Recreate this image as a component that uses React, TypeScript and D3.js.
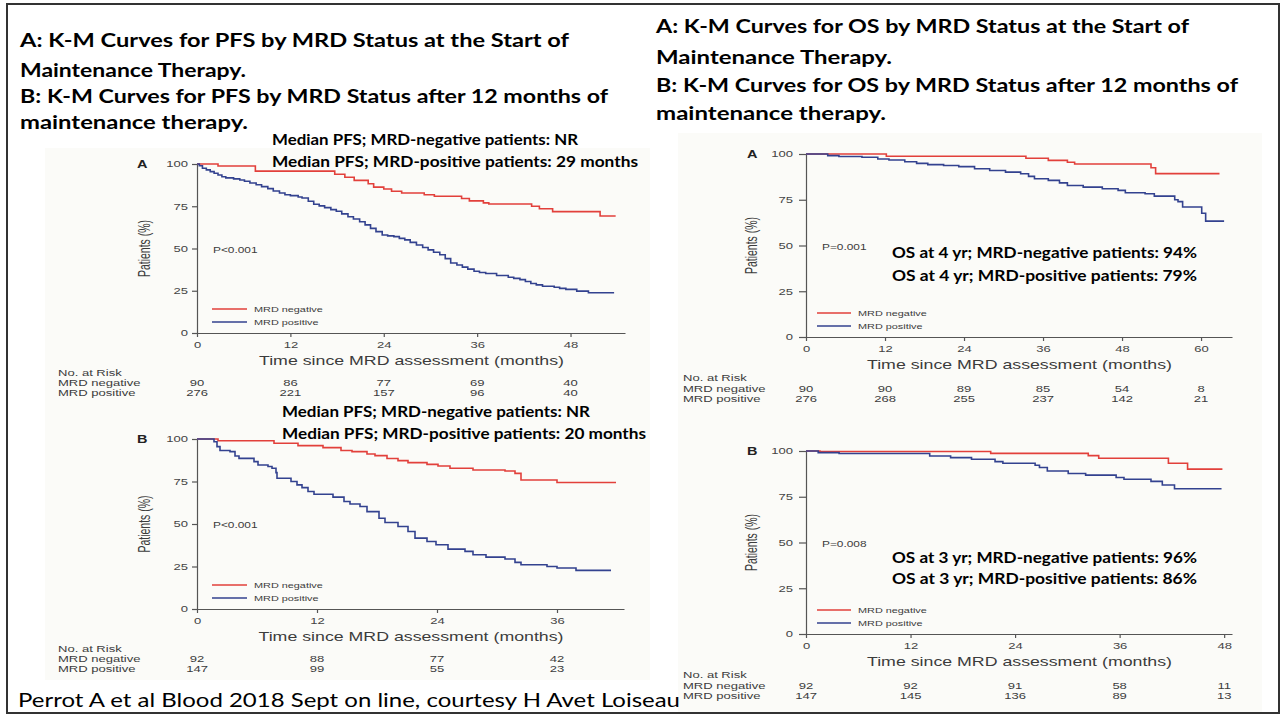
import React, { useEffect, useRef } from 'react'
import * as d3 from 'd3'

type Pt = [number, number]

const W = 1285
const H = 719
const SX = 1.45 // the pasted figures are stretched sideways
const FIG_FONT = '"Liberation Sans", Arial, sans-serif'
const SLIDE_FONT = 'Lato, "Open Sans", sans-serif'
const RED = '#e2403b'
const BLUE = '#33428f'

const yTicks = [0, 25, 50, 75, 100]
const ticksPfsA = [0, 12, 24, 36, 48]
const ticksPfsB = [0, 12, 24, 36]
const ticksOsA = [0, 12, 24, 36, 48, 60]
const ticksOsB = [0, 12, 24, 36, 48]
const seriesNames = ['MRD negative', 'MRD positive']

// PFS, MRD at start of maintenance
const pfsANeg: Pt[] = [[0,100],[2.7,98.8],[7.5,95.8],[17.7,93.9],[19,92.2],[20.2,90.3],[22,88.3],[22.7,86.3],[24,85.2],[25,83.9],[26.3,82.8],[29.2,81.8],[30.5,80.9],[34,79.6],[35,78.2],[36.8,77],[37.5,76.3],[43,75],[44,73.5],[45.7,71.8],[51.8,69.2],[53.8,69.2]]
const pfsAPos: Pt[] = [[0,100],[0.3,99],[0.7,97.5],[1.2,96.5],[1.7,95.5],[2.2,94.5],[2.7,93.5],[3.2,92.5],[3.7,91.8],[4.7,91.2],[5.5,90.5],[6.1,89.8],[6.8,88.8],[7.6,87.7],[8.3,86.6],[9.1,85.4],[9.8,84],[10.6,82.8],[11.3,81.8],[12,81.3],[13,80.5],[13.5,79.9],[14.3,78],[15,76.2],[15.7,75.2],[16.4,74.2],[17.2,73],[17.9,72],[18.6,70.5],[19.4,68.8],[20.1,67.5],[20.9,65.8],[21.6,64],[22.3,61.9],[23,60],[23.8,58],[24.5,57.5],[25.3,57],[26,56],[26.7,55.1],[27.4,53.6],[28.2,52.1],[29,50.6],[29.7,49.2],[30.4,47.8],[31.2,46.3],[31.9,44],[32.6,41.4],[33.4,40.2],[34.1,39],[34.8,37.8],[35.6,36.5],[36.3,35.8],[37.1,35.2],[38.5,34],[40,33],[40.7,32.3],[41.5,31.6],[42.2,30.5],[42.9,29.3],[43.6,28.5],[44.4,27.7],[45.9,27.1],[46.6,26.4],[47.4,25.8],[48.8,24.8],[50.3,23.8],[53.6,23.8]]

// PFS, MRD after 12 months of maintenance
const pfsBNeg: Pt[] = [[0,100],[2.1,99],[7.7,97.5],[10.1,96.1],[12.6,94.9],[14.4,93.2],[15.5,92.6],[17,91.2],[17.8,90.2],[19,88.5],[20.1,87.3],[21.1,86.1],[23,85.1],[24.1,84.1],[25.3,82.8],[27.6,81.8],[30.8,81.2],[31.8,79.8],[32.4,75.9],[36,74.4],[41.9,74.4]]
const pfsBPos: Pt[] = [[0,100],[1.7,98.4],[2,95.5],[2.3,93.2],[3.3,92.6],[3.8,90],[4.2,88.6],[5.7,86.7],[6.1,84.7],[7.1,83.8],[7.5,82.8],[7.9,80.2],[8,76.9],[9.4,75],[10,73],[10.5,71.4],[11.1,69.1],[11.7,67.5],[13.6,65.8],[14.7,63.2],[15.3,61.8],[16.3,60.3],[17,57.3],[18.2,53.4],[18.8,50.9],[20.1,48.5],[21.1,45.6],[21.8,41.7],[23,39.7],[23.9,37.8],[25.1,35.2],[26.8,33.9],[27.6,31.9],[28.9,30.5],[30.8,29.4],[31.8,27.4],[32.4,26],[35,25],[36,24.1],[37.9,22.7],[41.4,22.7]]

// OS, MRD at start of maintenance
const osANeg: Pt[] = [[0,100],[12.2,98.8],[33.4,97.7],[36.8,96.5],[39.7,95.5],[40.8,94.5],[52.4,92.5],[53.1,89.3],[62.8,89.3]]
const osAPos: Pt[] = [[0,100],[3.3,99.1],[5,98.6],[8.5,98.2],[10.9,97.3],[12.6,96.7],[15,95.8],[16.8,94.9],[18.5,94.2],[20.9,93.7],[23.2,93.1],[25.6,91.9],[27.9,91],[30.3,90.1],[32.6,89.2],[33.8,87.8],[34.7,86.5],[36.8,85.6],[38.5,84.2],[39.7,82.8],[42.1,81.9],[45,81],[47.4,80.1],[48.5,78.8],[51.5,78.3],[52.9,77],[56,75],[56.5,74],[57.2,71],[60.1,67.6],[60.7,63.3],[63.5,63.3]]

// OS, MRD after 12 months of maintenance
const osBNeg: Pt[] = [[0,100],[1.6,99.7],[21.2,98.7],[32.4,97.5],[33.6,96],[41.6,93.3],[43.8,90.1],[47.8,90.1]]
const osBPos: Pt[] = [[0,100],[1.4,99.1],[3.8,98.6],[14.2,97.3],[16.6,96.4],[19,95.5],[21.7,94.2],[22.6,93.3],[26.3,92.2],[26.8,91],[27.7,89.1],[30.1,87.7],[32.1,86.8],[35.6,85.5],[36.5,84.6],[39.6,83.4],[40.9,81.4],[42.3,79.4],[47.7,79.4]]

// numbers at risk
const pfsARisk = [[90, 86, 77, 69, 40], [276, 221, 157, 96, 40]]
const pfsBRisk = [[92, 88, 77, 42], [147, 99, 55, 23]]
const osARisk = [[90, 90, 89, 85, 54, 8], [276, 268, 255, 237, 142, 21]]
const osBRisk = [[92, 92, 91, 58, 11], [147, 145, 136, 89, 13]]

const leftTitle = [
  'A: K-M Curves for PFS by MRD Status at the Start of',
  'Maintenance Therapy.',
  'B: K-M Curves for PFS by MRD Status after 12 months of',
  'maintenance therapy.',
]
const rightTitle = [
  'A: K-M Curves for OS by MRD Status at the Start of',
  'Maintenance Therapy.',
  'B: K-M Curves for OS by MRD Status after 12 months of',
  'maintenance therapy.',
]
const footer = 'Perrot A et al Blood 2018 Sept on line, courtesy H Avet Loiseau'

interface Panel {
  letter: string
  side: 'pfs' | 'os'
  left: number
  right: number
  top: number
  bottom: number
  xMax: number
  ticks: number[]
  neg: Pt[]
  pos: Pt[]
  risk: number[][]
  pText: string
  notes: string[]
  noteX: number
  noteY: number[]
  noteLen: number[]
}

const panels: Panel[] = [
  { letter: 'A', side: 'pfs', left: 197, right: 625, top: 164, bottom: 333, xMax: 55, ticks: ticksPfsA,
    neg: pfsANeg, pos: pfsAPos, risk: pfsARisk, pText: 'P<0.001',
    notes: ['Median PFS; MRD-negative patients: NR', 'Median PFS; MRD-positive patients: 29 months'],
    noteX: 272, noteY: [145, 167], noteLen: [306, 366] },
  { letter: 'B', side: 'pfs', left: 197, right: 624, top: 439, bottom: 609, xMax: 42.7, ticks: ticksPfsB,
    neg: pfsBNeg, pos: pfsBPos, risk: pfsBRisk, pText: 'P<0.001',
    notes: ['Median PFS; MRD-negative patients: NR', 'Median PFS; MRD-positive patients: 20 months'],
    noteX: 282, noteY: [417, 439], noteLen: [308, 364] },
  { letter: 'A', side: 'os', left: 806, right: 1232, top: 154, bottom: 337, xMax: 64.7, ticks: ticksOsA,
    neg: osANeg, pos: osAPos, risk: osARisk, pText: 'P=0.001',
    notes: ['OS at 4 yr; MRD-negative patients: 94%', 'OS at 4 yr; MRD-positive patients:  79%'],
    noteX: 892, noteY: [258, 281], noteLen: [305, 305] },
  { letter: 'B', side: 'os', left: 806, right: 1232, top: 451, bottom: 634, xMax: 48.9, ticks: ticksOsB,
    neg: osBNeg, pos: osBPos, risk: osBRisk, pText: 'P=0.008',
    notes: ['OS at 3 yr; MRD-negative patients: 96%', 'OS at 3 yr; MRD-positive patients:  86%'],
    noteX: 892, noteY: [563, 584], noteLen: [305, 305] },
]

type Sel = d3.Selection<SVGGElement, unknown, null, undefined>

function figText(g: Sel, x: number, y: number, s: string, size: number, anchor = 'start', weight = 'normal') {
  return g.append('text')
    .attr('transform', `translate(${x},${y}) scale(${SX},1)`)
    .attr('text-anchor', anchor)
    .attr('font-family', FIG_FONT)
    .attr('font-size', size)
    .attr('font-weight', weight)
    .attr('fill', '#3c3c3c')
    .text(s)
}

function slideText(g: Sel, x: number, y: number, s: string, size: number, len: number, weight = 'bold') {
  return g.append('text')
    .attr('x', x).attr('y', y)
    .attr('font-family', SLIDE_FONT)
    .attr('font-size', size)
    .attr('font-weight', weight)
    .attr('fill', '#000')
    .attr('textLength', len)
    .attr('lengthAdjust', 'spacingAndGlyphs')
    .text(s)
}

function drawPanel(root: Sel, p: Panel) {
  const g = root.append('g')
  const os = p.side === 'os'
  const x = d3.scaleLinear().domain([0, p.xMax]).range([p.left, p.right])
  const y = d3.scaleLinear().domain([0, 100]).range([p.bottom, p.top])
  const yTick = os ? 7 : 5
  const yPad = os ? 6 : 4

  // axes
  const yAxis = d3.axisLeft(y).tickValues(yTicks).tickSize(yTick).tickSizeOuter(0).tickPadding(yPad)
  const ya = g.append('g').attr('transform', `translate(${p.left},0)`).call(yAxis)
  ya.selectAll('text')
    .attr('x', -(yTick + yPad) / SX)
    .attr('transform', `scale(${SX},1)`)
    .attr('font-size', 9)
  const xAxis = d3.axisBottom(x).tickValues(p.ticks).tickSize(4).tickSizeOuter(0).tickPadding(5)
  const xa = g.append('g').attr('transform', `translate(0,${p.bottom})`).call(xAxis)
  xa.selectAll('text').attr('transform', `scale(${SX},1)`).attr('font-size', 9)
  ;[ya, xa].forEach(a => {
    a.attr('font-family', FIG_FONT)
    a.selectAll('path, line').attr('stroke', '#555').attr('stroke-width', 1.2)
    a.selectAll('text').attr('fill', '#444')
  })

  // curves
  const line = d3.line<Pt>().x(d => x(d[0])).y(d => y(d[1])).curve(d3.curveStepAfter)
  ;[[p.neg, RED], [p.pos, BLUE]].forEach(([data, col]) => {
    g.append('path').datum(data as Pt[])
      .attr('d', line)
      .attr('fill', 'none')
      .attr('stroke', col as string)
      .attr('stroke-width', 1.6)
  })

  // labels inside the frame
  figText(g, p.left - (os ? 59 : 60), p.top + 3.5, p.letter, 10, 'start', 'bold').attr('fill', '#222')
  g.append('text')
    .attr('transform', `translate(${p.left - (os ? 49 : 47)},${(p.top + p.bottom) / 2}) scale(1.6,1) rotate(-90)`)
    .attr('text-anchor', 'middle')
    .attr('font-family', FIG_FONT)
    .attr('font-size', 10.5)
    .attr('fill', '#3c3c3c')
    .text('Patients (%)')
  figText(g, p.left + 16, y(50) + 4, p.pText, 8.2, 'start')

  const lx0 = p.left + (os ? 11 : 15)
  const lx1 = p.left + (os ? 45 : 50)
  ;[RED, BLUE].forEach((col, i) => {
    const ly = p.bottom - 24 + i * 13
    g.append('line').attr('x1', lx0).attr('x2', lx1).attr('y1', ly).attr('y2', ly)
      .attr('stroke', col).attr('stroke-width', 1.4)
    figText(g, lx1 + 7, ly + 3, seriesNames[i], 7.5)
  })

  g.append('text')
    .attr('x', (p.left + p.right) / 2 - 152).attr('y', p.bottom + 32)
    .attr('font-family', FIG_FONT).attr('font-size', 13.5).attr('fill', '#3c3c3c')
    .attr('textLength', 305).attr('lengthAdjust', 'spacingAndGlyphs')
    .text('Time since MRD assessment (months)')

  // numbers at risk
  const rx = os ? 683 : 58
  const r0 = p.bottom + (os ? 44 : 43)
  const dr = os ? 10.5 : 10
  figText(g, rx, r0, 'No. at Risk', 9)
  seriesNames.forEach((n, i) => {
    figText(g, rx, r0 + dr * (i + 1), n, 9)
    p.risk[i].forEach((v, j) => figText(g, x(p.ticks[j]), r0 + dr * (i + 1), String(v), 9, 'middle'))
  })

  // slide annotations
  p.notes.forEach((s, i) => slideText(g, p.noteX, p.noteY[i], s, os ? 16 : 15, p.noteLen[i]))
}

export default function App() {
  const ref = useRef<SVGSVGElement>(null)

  useEffect(() => {
    const svg = d3.select(ref.current)
    svg.selectAll('*').remove()
    const root = svg.append('g') as unknown as Sel

    root.append('rect').attr('width', W).attr('height', H).attr('fill', '#fff')
    // backgrounds of the pasted figures
    root.append('rect').attr('x', 45).attr('y', 148).attr('width', 605).attr('height', 532).attr('fill', '#fbfbf8')
    root.append('rect').attr('x', 678).attr('y', 133).attr('width', 584).attr('height', 579).attr('fill', '#fbfbf8')
    // slide frame
    root.append('rect').attr('x', 7).attr('y', 4).attr('width', 1272).attr('height', 709)
      .attr('fill', 'none').attr('stroke', '#333').attr('stroke-width', 2)

    const lw = [549, 226, 588, 228]
    const ly = [47, 77, 103, 129]
    leftTitle.forEach((s, i) => slideText(root, 20, ly[i], s, 19.5, lw[i]))
    const rw = [533, 236, 582, 230]
    const ry = [33, 64, 92, 120]
    rightTitle.forEach((s, i) => slideText(root, 656, ry[i], s, 19.5, rw[i]))

    panels.forEach(p => drawPanel(root, p))

    slideText(root, 18, 707, footer, 20, 662, 'normal')
  }, [])

  return (
    <svg ref={ref} width={W} height={H}
      style={{ position: 'absolute', left: 0, top: 0, display: 'block' }} />
  )
}
